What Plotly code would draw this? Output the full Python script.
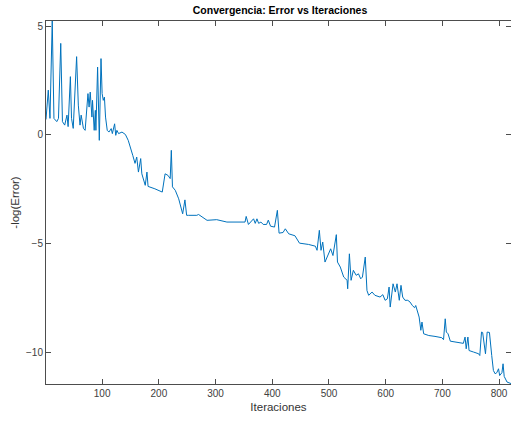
import plotly.graph_objects as go

iteraciones = [1, 5, 8, 12, 15, 20, 23, 27, 30, 34, 38, 40, 44, 46, 49, 55, 58, 61, 63, 67,
               70, 75, 77, 79, 82, 83, 86, 88, 89, 92, 95, 98, 100, 102, 104, 106, 109, 112, 116, 118,
               122, 124, 126, 129, 135, 141, 146, 152, 154, 158, 161, 164, 168, 170, 176, 179, 181, 193, 206, 211,
               216, 220, 222, 224, 229, 235, 238, 242, 246, 249, 252, 267, 270, 285, 302, 320, 352, 354, 358, 367,
               370, 373, 376, 380, 384, 390, 393, 397, 404, 409, 412, 419, 423, 429, 440, 448, 464, 476, 479, 483,
               486, 489, 493, 499, 503, 507, 513, 515, 520, 526, 532, 533, 536, 539, 543, 548, 552, 556, 559, 564,
               567, 570, 576, 581, 590, 595, 599, 603, 606, 608, 613, 617, 620, 624, 627, 630, 634, 639, 643, 647,
               651, 653, 656, 659, 662, 664, 667, 676, 687, 699, 702, 705, 707, 710, 714, 723, 737, 740, 742, 745,
               747, 755, 764, 766, 769, 771, 774, 776, 779, 783, 787, 790, 793, 796, 799, 801, 805, 807, 809, 814,
               821]
log_error = [0.7, 2.05, 0.75, 5.23, 0.75, 0.6, 0.75, 4.2, 0.6, 0.44, 0.9, 0.37, 2.67, 0.75, 0.29, 3.59, 1.36, 0.44, 0.9, 0.29,
             0.2, 1.89, 1.27, 1.96, 0.81, 1.58, 0.2, 1.12, 0.2, 3.11, -0.26, 3.5, 1.89, 1.58, 1.73, 0.81, 0.2, 0.12, 0.28, 0.05,
             0.5, -0.03, 0.2, 0.05, 0.12, 0.01, -0.26, -0.87, -0.95, -1.32, -1.03, -1.72, -1.1, -1.8, -2.33, -1.72, -2.38, -2.49, -2.64, -1.8,
             -1.87, -2.02, -0.72, -2.4, -2.56, -2.95, -3.3, -3.64, -3.0, -3.71, -3.71, -3.71, -3.67, -3.94, -3.91, -4.02, -4.02, -3.76, -4.13, -3.87,
             -4.08, -3.87, -4.08, -4.02, -4.13, -4.13, -3.93, -4.21, -4.25, -3.48, -4.53, -4.5, -4.33, -4.56, -4.65, -4.99, -5.05, -5.13, -5.32, -4.4,
             -5.32, -4.94, -5.86, -5.48, -5.25, -5.56, -4.6, -5.86, -6.09, -6.55, -6.7, -7.09, -5.48, -6.7, -6.24, -6.47, -6.4, -6.63, -6.55, -5.63,
             -7.17, -7.39, -7.24, -7.39, -7.47, -7.36, -7.62, -7.55, -7.01, -7.93, -6.86, -7.24, -6.86, -7.62, -6.93, -7.47, -7.62, -7.62, -7.7, -7.86,
             -7.96, -7.86, -8.17, -8.39, -9.0, -8.62, -9.16, -9.24, -9.28, -9.34, -9.43, -8.47, -9.08, -9.16, -9.5, -9.54, -9.6, -9.31, -9.85, -9.31,
             -9.93, -10.0, -10.08, -10.16, -9.08, -9.1, -9.7, -10.08, -9.08, -9.1, -10.16, -10.85, -11.0, -10.95, -10.77, -11.08, -10.95, -10.54, -11.12, -11.38,
             -11.45]

x_ticks = [100, 200, 300, 400, 500, 600, 700, 800]
y_ticks = [-10, -5, 0, 5]

FONT = "Liberation Sans, Arial, sans-serif"

fig = go.Figure()
fig.add_trace(go.Scatter(x=iteraciones, y=log_error, mode="lines",
                         line=dict(color="#0072BD", width=1), showlegend=False))

axis_common = dict(showline=True, linecolor="#4d4d4d", linewidth=1, mirror="ticks",
                   ticks="inside", ticklen=5, tickcolor="#4d4d4d", showgrid=False, zeroline=False,
                   automargin=False,
                   tickfont=dict(family=FONT, size=10, color="#404040"))

fig.update_layout(
    width=511, height=422,
    margin=dict(l=46, r=0, t=21, b=38, autoexpand=False),
    paper_bgcolor="white", plot_bgcolor="white",
    title=dict(text="<b>Convergencia: Error vs Iteraciones</b>", x=0.548, xanchor="center",
               y=0.976, yanchor="middle", automargin=False,
               font=dict(family=FONT, size=10.5, color="#000000")),
    xaxis=dict(range=[1, 821], tickvals=x_ticks,
               title=dict(text="Iteraciones", standoff=4,
                          font=dict(family=FONT, size=11.5, color="#333333")),
               **axis_common),
    yaxis=dict(range=[-11.47, 5.23], tickvals=y_ticks,
               title=dict(text="-log(Error)", standoff=4,
                          font=dict(family=FONT, size=11.5, color="#333333")),
               **axis_common),
)

fig.write_html("out.html", config={"displayModeBar": False},
               post_script="document.body.style.margin='0';document.body.style.overflow='hidden';")
